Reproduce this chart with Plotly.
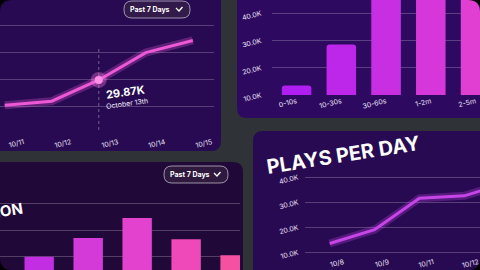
import plotly.graph_objects as go

W, H = 480, 270

# ---------------- data ----------------
tl_dates = ["10/11", "10/12", "10/13", "10/14", "10/15"]
tl_plays = [20500, 22000, 29870, 40000, 44500]
tl_focus_date = "10/13"
tl_focus_value = 29870
tl_focus_label = "29.87K"
tl_focus_sub = "October 13th"

tr_buckets = ["0-10s", "10-30s", "30-60s", "1-2m", "2-5m"]
tr_plays = [13500, 28500, 46500, 48000, 45500]

bl_regions = ["US", "UK", "DE", "FR", "BR"]
bl_plays = [20000, 27000, 34500, 26500, 20500]

br_dates = ["10/8", "10/9", "10/11", "10/12", "10/13"]
br_plays = [13500, 19000, 31500, 32500, 38000]

k_tick_vals = [10000, 20000, 30000, 40000]
k_tick_text = ["10.0K", "20.0K", "30.0K", "40.0K"]

range_label = "Past 7 Days"
title_br = "PLAYS PER DAY"
title_bl = "PLAYS BY REGION"

# ---------------- style ----------------
BG = "#2f3237"
FONT = "Inter"
TICK = dict(family=FONT, size=7, color="#ece2f7")
GRID = "rgba(255,255,255,0.22)"
tr_colors = ["#b01ef2", "#bd27ea", "#c92fe2", "#d637da", "#e03fd2"]
bl_colors = ["#c22ee2", "#d43ad8", "#e342cf", "#ef48b8", "#f651a0"]


def px(x):
    return x / W


def py(y):
    return 1 - y / H


def rrect(x0, y0, x1, y1, r):
    pts = [
        ("M", [(x0 + r, y0)]), ("L", [(x1 - r, y0)]), ("Q", [(x1, y0), (x1, y0 + r)]),
        ("L", [(x1, y1 - r)]), ("Q", [(x1, y1), (x1 - r, y1)]), ("L", [(x0 + r, y1)]),
        ("Q", [(x0, y1), (x0, y1 - r)]), ("L", [(x0, y0 + r)]), ("Q", [(x0, y0), (x0 + r, y0)]),
    ]
    s = ""
    for cmd, ps in pts:
        s += cmd + " " + " ".join(f"{px(a):.5f},{py(b):.5f}" for a, b in ps) + " "
    return s + "Z"


def poly(points):
    return "M " + " L ".join(f"{px(a):.5f},{py(b):.5f}" for a, b in points)


shapes = []
# panels
panels = [
    (-12, -20, 221, 151, "#270a52"),
    (237, -20, 492, 118, "#2d0a60"),
    (-12, 162, 243, 292, "#200838"),
    (253, 131, 492, 292, "#280a52"),
]
for x0, y0, x1, y1, c in panels:
    shapes.append(dict(type="path", xref="paper", yref="paper", path=rrect(x0, y0, x1, y1, 10),
                       fillcolor=c, line=dict(width=0), layer="below"))

# "Past 7 Days" pills
pills = [(124, 1, 190, 18), (164, 166, 228, 183)]
for x0, y0, x1, y1 in pills:
    shapes.append(dict(type="path", xref="paper", yref="paper", path=rrect(x0, y0, x1, y1, 8),
                       fillcolor="rgba(60,40,70,0.55)", line=dict(color="rgba(255,255,255,0.55)", width=1),
                       layer="above"))
    cx, cy = x1 - 11, (y0 + y1) / 2
    shapes.append(dict(type="path", xref="paper", yref="paper",
                       path=poly([(cx - 3, cy - 1.5), (cx, cy + 1.5), (cx + 3.5, cy - 2.5)]),
                       line=dict(color="white", width=1.3), layer="above"))

# focus dashed line
shapes.append(dict(type="line", xref="x", yref="y domain", x0=tl_focus_date, x1=tl_focus_date,
                   y0=0.0, y1=0.75, line=dict(color="rgba(255,255,255,0.35)", width=1, dash="dot"),
                   layer="below"))

# rounded window corners
R = 12
for (cx, cy, sx, sy) in [(0, 0, 1, 1), (W, 0, -1, 1), (0, H, 1, -1), (W, H, -1, -1)]:
    path = (f"M {px(cx):.5f},{py(cy):.5f} L {px(cx + sx * R):.5f},{py(cy):.5f} "
            f"Q {px(cx):.5f},{py(cy):.5f} {px(cx):.5f},{py(cy + sy * R):.5f} Z")
    shapes.append(dict(type="path", xref="paper", yref="paper", path=path,
                       fillcolor="#000000", line=dict(width=0), layer="above"))

fig = go.Figure()

# ---- top-left: line ----
fig.add_trace(go.Scatter(x=tl_dates, y=tl_plays, mode="lines", xaxis="x", yaxis="y",
                         line=dict(color="rgba(240,90,215,0.28)", width=8), hoverinfo="skip"))
fig.add_trace(go.Scatter(x=tl_dates, y=tl_plays, mode="lines", xaxis="x", yaxis="y",
                         line=dict(color="#ec58d6", width=3)))
fig.add_trace(go.Scatter(x=[tl_focus_date], y=[tl_focus_value], mode="markers", xaxis="x", yaxis="y",
                         marker=dict(size=16, color="rgba(255,120,225,0.35)")))
fig.add_trace(go.Scatter(x=[tl_focus_date], y=[tl_focus_value], mode="markers", xaxis="x", yaxis="y",
                         marker=dict(size=8, color="#ff8fe6")))

# ---- top-right: bars ----
fig.add_trace(go.Bar(x=tr_buckets, y=tr_plays, xaxis="x2", yaxis="y2", width=0.66,
                     marker=dict(color=tr_colors, line=dict(width=0), cornerradius=3)))

# ---- bottom-left: bars ----
fig.add_trace(go.Bar(x=bl_regions, y=bl_plays, xaxis="x3", yaxis="y3", width=0.6,
                     marker=dict(color=bl_colors, line=dict(width=0), cornerradius=0)))

# ---- bottom-right: line ----
fig.add_trace(go.Scatter(x=br_dates, y=br_plays, mode="lines", xaxis="x4", yaxis="y4",
                         line=dict(color="rgba(200,70,235,0.28)", width=8), hoverinfo="skip"))
fig.add_trace(go.Scatter(x=br_dates, y=br_plays, mode="lines", xaxis="x4", yaxis="y4",
                         line=dict(color="#c645e6", width=3)))

common_x = dict(showgrid=False, zeroline=False, showline=False, ticks="", tickfont=TICK, tickangle=-14,
                type="category")
common_y = dict(showgrid=True, gridcolor=GRID, gridwidth=1, zeroline=False, showline=False, ticks="",
                tickfont=TICK, tickangle=-14, tickvals=k_tick_vals, ticktext=k_tick_text)

annotations = [
    dict(x=tl_focus_date, y=tl_focus_value, xref="x", yref="y", xanchor="left", yanchor="top",
         xshift=4, yshift=0, text=f"<b>{tl_focus_label}</b>", showarrow=False, textangle=-8,
         font=dict(family=FONT, size=11, color="white")),
    dict(x=tl_focus_date, y=tl_focus_value, xref="x", yref="y", xanchor="left", yanchor="top",
         xshift=5, yshift=-14, text=tl_focus_sub, showarrow=False, textangle=-8,
         font=dict(family=FONT, size=7, color="#eee6f6")),
    dict(x=px(150), y=py(9.5), xref="paper", yref="paper", text=f"<b>{range_label}</b>", showarrow=False,
         font=dict(family=FONT, size=7, color="white"), xanchor="center", yanchor="middle"),
    dict(x=px(190), y=py(174.5), xref="paper", yref="paper", text=f"<b>{range_label}</b>", showarrow=False,
         font=dict(family=FONT, size=7, color="white"), xanchor="center", yanchor="middle"),
    dict(x=px(343), y=py(155), xref="paper", yref="paper", text=f"<b>{title_br}</b>", showarrow=False,
         textangle=-9, font=dict(family=FONT, size=20, color="white", weight=900),
         xanchor="center", yanchor="middle"),
    dict(x=px(26), y=py(218), xref="paper", yref="paper", text=f"<b>{title_bl}</b>", showarrow=False,
         textangle=-9, font=dict(family=FONT, size=15, color="white", weight=900),
         xanchor="right", yanchor="middle"),
]

fig.update_layout(
    width=W, height=H, margin=dict(l=0, r=0, t=0, b=0, autoexpand=False),
    paper_bgcolor=BG, plot_bgcolor="rgba(0,0,0,0)",
    showlegend=False, bargap=0.3,
    font=dict(family=FONT, color="white"),
    shapes=shapes, annotations=annotations,
    xaxis=dict(common_x, domain=[0, px(214)], anchor="y", range=[-0.1, 4.45], ticklabelstandoff=6,
               ticklabelshift=19),
    yaxis=dict(common_y, domain=[py(130), py(18)], anchor="x", range=[11350, 52800],
               showticklabels=False, tickvals=[20000, 30000, 40000, 50000]),
    xaxis2=dict(common_x, domain=[px(272), 1], anchor="y2", range=[-0.55, 4.1]),
    yaxis2=dict(common_y, domain=[py(95), 1], anchor="x2", range=[10000, 44800], ticklabelstandoff=10),
    xaxis3=dict(common_x, domain=[0, px(240)], anchor="y3", range=[-0.8, 4.1], showticklabels=False),
    yaxis3=dict(common_y, domain=[0, py(190)], anchor="x3", range=[15000, 45000], showticklabels=False),
    xaxis4=dict(common_x, domain=[px(305), 1], anchor="y4", range=[-0.55, 3.35], ticklabelshift=14),
    yaxis4=dict(common_y, domain=[py(256), py(172)], anchor="x4", range=[8500, 42000], ticklabelstandoff=6),
)

fig.write_html("out.html")
